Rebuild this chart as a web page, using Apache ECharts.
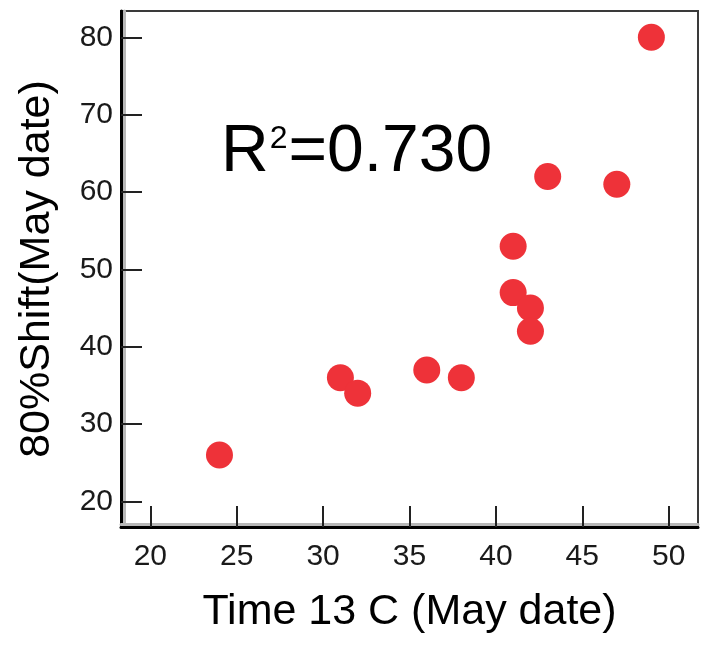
<!DOCTYPE html>
<html>
<head>
<meta charset="utf-8">
<script src="https://cdn.jsdelivr.net/npm/echarts@6/dist/echarts.min.js"></script>
<style>
  html, body { margin: 0; padding: 0; background: #fff; }
  #chart { width: 710px; height: 647px; }
</style>
</head>
<body>
<div id="chart"></div>
<script>
// time 13 C (May date) vs 80% shift (May date)
const timeDates = [24, 31, 32, 36, 38, 41, 41, 42, 42, 43, 47, 49]
const shiftDates = [26, 36, 34, 37, 36, 53, 47, 45, 42, 62, 61, 80]
const xTicks = [20, 25, 30, 35, 40, 45, 50]
const yTicks = [20, 30, 40, 50, 60, 70, 80]
const rSquared = '0.730'

const points = timeDates.map((x, i) => [x, shiftDates[i]])

const font = '"Liberation Sans", Arial, sans-serif'
const red = '#ee3239'

const chart = echarts.init(document.getElementById('chart'))
chart.setOption({
  backgroundColor: '#fff',
  animation: false,
  title: {
    left: 216,
    top: 113,
    text: '{r|R}{sup|2}{r|=' + rSquared + '}',
    textStyle: {
      fontWeight: 'normal',
      rich: {
        r: { fontFamily: font, fontSize: 66, fontWeight: 'normal', color: '#000', lineHeight: 70 },
        sup: { fontFamily: font, fontSize: 32, fontWeight: 'normal', color: '#000', verticalAlign: 'top', lineHeight: 32, padding: [5, 1, 0, 1] }
      }
    }
  },
  grid: {
    left: 121,
    right: 12,
    top: 11,
    bottom: 120,
    show: true,
    borderColor: '#3a3a3a',
    borderWidth: 2
  },
  xAxis: {
    type: 'value',
    min: 18.3,
    max: 51.7,
    name: 'Time 13 C (May date)',
    nameLocation: 'middle',
    nameGap: 64,
    nameTextStyle: { fontFamily: font, fontSize: 43, color: '#000' },
    splitLine: { show: false },
    axisLine: {
      onZero: false,
      lineStyle: { color: '#000', width: 3, shadowColor: '#b8b8b8', shadowOffsetY: -3 }
    },
    axisTick: {
      inside: true,
      length: 21,
      customValues: xTicks,
      lineStyle: { color: '#222', width: 2 }
    },
    axisLabel: {
      customValues: xTicks,
      margin: 15,
      fontFamily: font,
      fontSize: 30,
      color: '#1a1a1a'
    }
  },
  yAxis: {
    type: 'value',
    min: 16.7,
    max: 83.4,
    name: '80%Shift(May date)',
    nameLocation: 'middle',
    nameGap: 62,
    nameTextStyle: { fontFamily: font, fontSize: 43, color: '#000' },
    splitLine: { show: false },
    axisLine: {
      onZero: false,
      lineStyle: { color: '#000', width: 3, shadowColor: '#b8b8b8', shadowOffsetX: 3 }
    },
    axisTick: {
      inside: true,
      length: 21,
      customValues: yTicks,
      lineStyle: { color: '#222', width: 2 }
    },
    axisLabel: {
      customValues: yTicks,
      margin: 8,
      fontFamily: font,
      fontSize: 30,
      color: '#1a1a1a'
    }
  },
  series: [
    {
      type: 'scatter',
      data: points,
      symbol: 'circle',
      symbolSize: 27,
      itemStyle: { color: red, opacity: 1 }
    }
  ]
})
</script>
</body>
</html>
